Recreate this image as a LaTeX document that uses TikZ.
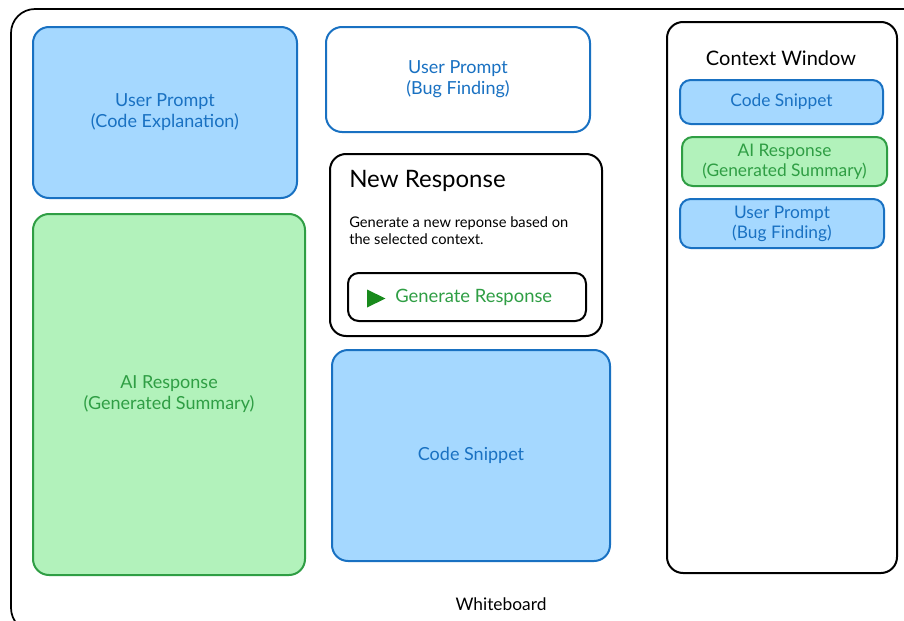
\documentclass[tikz,border=0pt]{standalone}
\usepackage{fontspec}
\setmainfont{Lato}
\definecolor{blueFill}{HTML}{A5D8FF}
\definecolor{blueLine}{HTML}{1971C2}
\definecolor{greenFill}{HTML}{B2F2BB}
\definecolor{greenLine}{HTML}{2F9E44}
\definecolor{playGreen}{HTML}{188A1C}
\tikzset{
  card/.style={draw, rounded corners=12pt, line width=1.5pt, align=center, inner sep=0pt},
  bluecard/.style={card, draw=blueLine, fill=blueFill, text=blueLine, font=\fontsize{13.5}{15.75}\selectfont},
  greencard/.style={card, draw=greenLine, fill=greenFill, text=greenLine, font=\fontsize{13.5}{15.75}\selectfont},
  whitecard/.style={card, draw=black, fill=white},
}
\begin{document}
\begin{tikzpicture}[x=0.75pt,y=0.75pt,yscale=-1,xscale=1]
\useasboundingbox (0,0) rectangle (904,621);
\clip (0,0) rectangle (904,621);

%Whiteboard frame
\draw [line width=1.3pt, rounded corners=18pt] (11,9) rectangle (930,632);
\node [font=\fontsize{13}{15}\selectfont] (wblabel) at (501,604) {Whiteboard};

%Left column
\node [bluecard, minimum width=198pt, minimum height=128.25pt] (promptcode) at (165,112.5) {User Prompt\\(Code Explanation)};
\node [greencard, minimum width=204pt, minimum height=270.75pt] (aisummary) at (169,394.5) {AI Response\\(Generated Summary)};

%Middle column
\node [whitecard, draw=blueLine, text=blueLine, font=\fontsize{13.5}{15.75}\selectfont, minimum width=198pt, minimum height=78.75pt] (promptbug) at (458,79.5) {User Prompt\\(Bug Finding)};
\node [whitecard, minimum width=204pt, minimum height=136.5pt] (newresp) at (466,245) {};
\node [anchor=west, inner sep=0pt, font=\fontsize{18}{21}\selectfont] (newtitle) at (349,181) {New Response};
\node [anchor=north west, inner sep=0pt, align=left, font=\fontsize{11}{12.75}\selectfont] (newtext) at (349,216) {Generate a new reponse based on\\the selected context.};
\node [whitecard, rounded corners=8pt, minimum width=178.5pt, minimum height=36pt] (genbtn) at (467,297) {};
\fill [playGreen] (367,289.5) -- (385.5,298.5) -- (367,307.5) -- cycle;
\node [anchor=west, inner sep=0pt, text=greenLine, font=\fontsize{13.8}{16}\selectfont] (genlabel) at (395,297) {Generate Response};
\node [bluecard, minimum width=208.5pt, minimum height=158.25pt] (snippet) at (471,455.5) {Code Snippet};

%Context window
\node [whitecard, minimum width=172.5pt, minimum height=413.25pt] (ctxwin) at (782,297.5) {};
\node [font=\fontsize{15}{18}\selectfont] (ctxtitle) at (781,58) {Context Window};
\node [bluecard, rounded corners=8pt, font=\fontsize{13}{15}\selectfont, minimum width=152.25pt, minimum height=33pt] (ctxsnippet) at (781.5,102) {Code Snippet};
\node [greencard, rounded corners=8pt, font=\fontsize{13}{15}\selectfont, minimum width=153.75pt, minimum height=36.75pt] (ctxai) at (784.5,161.5) {AI Response\\(Generated Summary)};
\node [bluecard, rounded corners=8pt, font=\fontsize{13}{15}\selectfont, minimum width=153pt, minimum height=36.75pt] (ctxprompt) at (782,223.5) {User Prompt\\(Bug Finding)};

\end{tikzpicture}
\end{document}
